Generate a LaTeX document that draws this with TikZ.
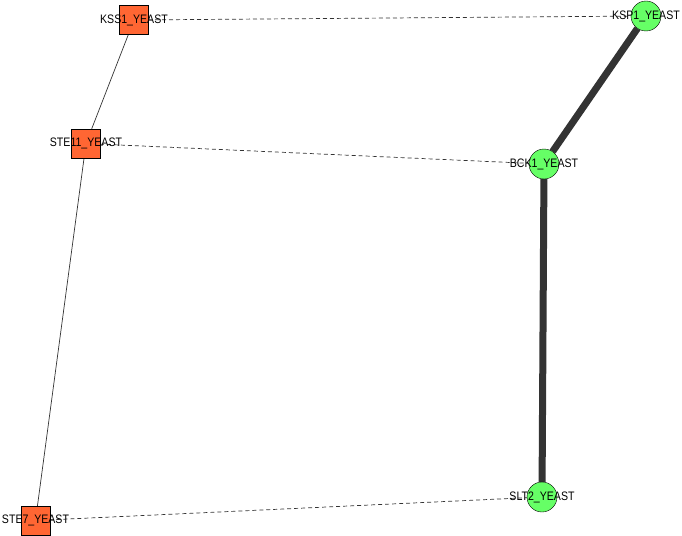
\documentclass[tikz,border=0pt]{standalone}
\usepackage{fontspec}
\setmainfont{Liberation Sans}
\usepackage{xcolor}
\usetikzlibrary{shapes, arrows.meta, positioning, backgrounds}
\definecolor{YeastOrange}{HTML}{FF6633}
\definecolor{YeastGreen}{HTML}{66FF66}
\definecolor{YeastEdge}{HTML}{333333}

\begin{document}
\begin{tikzpicture}[x=1pt, y=-1pt, every node/.style={font=\fontsize{12.3}{14}\selectfont}]
      \tikzset{
        sq/.style={rectangle, draw=black, fill=YeastOrange, minimum size=29pt, inner sep=0pt},
        rnd/.style={circle, draw=black, fill=YeastGreen, minimum size=30pt, inner sep=0pt},
        lbl/.style={inner sep=0pt, text=black, xscale=0.86},
        plainedge/.style={line width=0.7pt, color=YeastEdge},
        dashedge/.style={line width=0.7pt, dash pattern=on 4pt off 3pt, color=YeastEdge},
        heavyedge/.style={line width=7pt, color=YeastEdge}
      }
      \useasboundingbox (0,0) rectangle (682,535);
      \node[sq] (kss1) at (134,20) {};
      \node[sq] (ste11) at (86,143.5) {};
      \node[sq] (ste7) at (35.5,520.5) {};
      \node[rnd] (ksp1) at (646,16) {};
      \node[rnd] (bck1) at (544,164) {};
      \node[rnd] (slt2) at (542,497) {};

      \begin{scope}[on background layer]
      \draw[plainedge] (kss1) -- (ste11);
      \draw[plainedge] (ste11) -- (ste7);
      \draw[dashedge] (kss1.center) -- (ksp1.center);
      \draw[dashedge] (ste11.center) -- (bck1.center);
      \draw[dashedge] (ste7.center) -- (slt2.center);
      \draw[heavyedge] (ksp1) -- (bck1);
      \draw[heavyedge] (bck1) -- (slt2);
      \end{scope}

      \node[lbl] (kss1l) at (kss1) {KSS1\_YEAST};
      \node[lbl] (ste11l) at (ste11) {STE11\_YEAST};
      \node[lbl] (ste7l) at (ste7) {STE7\_YEAST};
      \node[lbl] (ksp1l) at (ksp1) {KSP1\_YEAST};
      \node[lbl] (bck1l) at (bck1) {BCK1\_YEAST};
      \node[lbl] (slt2l) at (slt2) {SLT2\_YEAST};
    \end{tikzpicture}
\end{document}
